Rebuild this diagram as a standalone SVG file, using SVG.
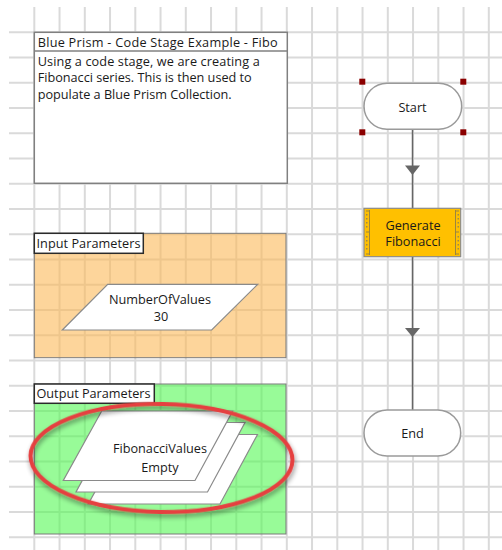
<svg xmlns="http://www.w3.org/2000/svg" width="502" height="550" viewBox="0 0 502 550">
<style>
.grid line{stroke:#dadada;stroke-width:2}
.t{font-family:"Open Sans","Noto Sans","DejaVu Sans",sans-serif;font-size:12.7px;fill:#1a1a1a}
.c{text-anchor:middle}
.term{fill:#fff;stroke:#9a9a9a;stroke-width:1.5}
.sheet{fill:#fff;stroke:#8a8a8a;stroke-width:1.2}
.handle{fill:#8b0000}
.lbl{fill:#fff;stroke:#2a2a2a;stroke-width:1.5}
.conn line{stroke:#666;stroke-width:1.5}
.conn polygon{fill:#666}
.deco{stroke:#9a8540;stroke-width:1;fill:none}
.dot{fill:#a08a48}
</style>
<defs>
<filter id="sh" x="-20%" y="-30%" width="140%" height="160%">
<feGaussianBlur in="SourceAlpha" stdDeviation="2.5"/>
<feOffset dx="1" dy="3" result="b"/>
<feComponentTransfer><feFuncA type="linear" slope="0.45"/></feComponentTransfer>
<feMerge><feMergeNode/><feMergeNode in="SourceGraphic"/></feMerge>
</filter>
</defs>
<rect width="502" height="550" fill="#fff"/>
<g class="grid">
<line x1="34.3" y1="7" x2="34.3" y2="550"/><line x1="59.55" y1="7" x2="59.55" y2="550"/><line x1="84.8" y1="7" x2="84.8" y2="550"/><line x1="110.05" y1="7" x2="110.05" y2="550"/><line x1="135.3" y1="7" x2="135.3" y2="550"/><line x1="160.55" y1="7" x2="160.55" y2="550"/><line x1="185.8" y1="7" x2="185.8" y2="550"/><line x1="211.05" y1="7" x2="211.05" y2="550"/><line x1="236.3" y1="7" x2="236.3" y2="550"/><line x1="261.55" y1="7" x2="261.55" y2="550"/><line x1="286.8" y1="7" x2="286.8" y2="550"/><line x1="312.05" y1="7" x2="312.05" y2="550"/><line x1="337.3" y1="7" x2="337.3" y2="550"/><line x1="362.55" y1="7" x2="362.55" y2="550"/><line x1="387.8" y1="7" x2="387.8" y2="550"/><line x1="413.05" y1="7" x2="413.05" y2="550"/><line x1="438.3" y1="7" x2="438.3" y2="550"/><line x1="463.55" y1="7" x2="463.55" y2="550"/><line x1="488.8" y1="7" x2="488.8" y2="550"/>
<line x1="9" y1="32.3" x2="502" y2="32.3"/><line x1="9" y1="57.55" x2="502" y2="57.55"/><line x1="9" y1="82.8" x2="502" y2="82.8"/><line x1="9" y1="108.05" x2="502" y2="108.05"/><line x1="9" y1="133.3" x2="502" y2="133.3"/><line x1="9" y1="158.55" x2="502" y2="158.55"/><line x1="9" y1="183.8" x2="502" y2="183.8"/><line x1="9" y1="209.05" x2="502" y2="209.05"/><line x1="9" y1="234.3" x2="502" y2="234.3"/><line x1="9" y1="259.55" x2="502" y2="259.55"/><line x1="9" y1="284.8" x2="502" y2="284.8"/><line x1="9" y1="310.05" x2="502" y2="310.05"/><line x1="9" y1="335.3" x2="502" y2="335.3"/><line x1="9" y1="360.55" x2="502" y2="360.55"/><line x1="9" y1="385.8" x2="502" y2="385.8"/><line x1="9" y1="411.05" x2="502" y2="411.05"/><line x1="9" y1="436.3" x2="502" y2="436.3"/><line x1="9" y1="461.55" x2="502" y2="461.55"/><line x1="9" y1="486.8" x2="502" y2="486.8"/><line x1="9" y1="512.05" x2="502" y2="512.05"/><line x1="9" y1="537.3" x2="502" y2="537.3"/>
</g>

<g id="note">
<rect x="34.3" y="32.3" width="253" height="151" fill="#fff" stroke="#808080" stroke-width="1.5"/>
<line x1="34.3" y1="51" x2="287.3" y2="51" stroke="#808080" stroke-width="1.5"/>
<text class="t" x="37.7" y="47" textLength="240">Blue Prism - Code Stage Example - Fibo</text>
<text class="t" x="37.7" y="65.5" textLength="222">Using a code stage, we are creating a</text>
<text class="t" x="37.7" y="82.3" textLength="214">Fibonacci series. This is then used to</text>
<text class="t" x="37.7" y="99" textLength="194">populate a Blue Prism Collection.</text>
</g>

<g id="input-block">
<rect x="34.3" y="233.3" width="251.7" height="124.4" fill="#fcb958" fill-opacity="0.6" stroke="#7a7a7a" stroke-width="1"/>
<rect class="lbl" x="34.3" y="233.3" width="109" height="20"/>
<text class="t" x="36.5" y="247.5" textLength="104">Input Parameters</text>
</g>

<g id="number-of-values">
<polygon points="107.7,284.3 257.7,284.3 211.7,330 62.3,330" fill="#fff" stroke="#8a8a8a" stroke-width="1.2"/>
<text class="t c" x="160" y="303.5">NumberOfValues</text>
<text class="t c" x="161" y="321">30</text>
</g>

<g id="output-block">
<rect x="34.3" y="384" width="251.7" height="150" fill="#53f853" fill-opacity="0.6" stroke="#7a7a7a" stroke-width="1"/>
<rect class="lbl" x="34.3" y="384" width="120" height="19.3"/>
<text class="t" x="36.5" y="398" textLength="114">Output Parameters</text>
</g>

<g id="fibonacci-values">
<polygon class="sheet" points="126.5,434.5 257.5,434.5 220,504 88.3,504"/>
<polygon class="sheet" points="114,422.5 245,422.5 207.5,492 76,492"/>
<polygon class="sheet" points="101.7,411 232.7,411 195,480.5 63.3,480.5"/>
<text class="t c" x="160" y="453">FibonacciValues</text>
<text class="t c" x="160" y="472">Empty</text>
</g>

<g id="highlight">
<ellipse cx="161.5" cy="458" rx="131" ry="54" transform="rotate(1 161.5 458)" fill="none" stroke="#e53f3f" stroke-width="4" filter="url(#sh)"/>
</g>

<g class="conn" id="connectors">
<line x1="412.5" y1="129.3" x2="412.5" y2="208.3"/>
<polygon points="405,165.5 420,165.5 412.5,175"/>
<line x1="412.5" y1="256.7" x2="412.5" y2="410"/>
<polygon points="405,328 420,328 412.5,337"/>
</g>

<g id="start">
<rect class="term" x="364" y="83.3" width="97.7" height="46" rx="23"/>
<text class="t c" x="412.5" y="111.5">Start</text>
<rect class="handle" x="359.3" y="78.7" width="6" height="6"/>
<rect class="handle" x="460.3" y="78.7" width="6" height="6"/>
<rect class="handle" x="359.3" y="129.3" width="6" height="6"/>
<rect class="handle" x="460.3" y="129.3" width="6" height="6"/>
</g>

<g id="generate-fibonacci">
<rect x="364" y="208.3" width="96.7" height="48.4" fill="#ffc000" stroke="#8a8a8a" stroke-width="1.2"/>
<line class="deco" x1="369.5" y1="210" x2="369.5" y2="255"/>
<line class="deco" x1="455.5" y1="210" x2="455.5" y2="255"/>
<path class="deco" d="M366 211h3.5M366 232h3.5M366 254h3.5M455.5 211h3.5M455.5 232h3.5M455.5 254h3.5"/>
<g class="dot">
<rect x="366" y="214" width="1.5" height="1.5"/><rect x="366" y="218" width="1.5" height="1.5"/><rect x="366" y="222" width="1.5" height="1.5"/><rect x="366" y="226" width="1.5" height="1.5"/><rect x="366" y="236" width="1.5" height="1.5"/><rect x="366" y="240" width="1.5" height="1.5"/><rect x="366" y="244" width="1.5" height="1.5"/><rect x="366" y="248" width="1.5" height="1.5"/>
<rect x="457.5" y="214" width="1.5" height="1.5"/><rect x="457.5" y="218" width="1.5" height="1.5"/><rect x="457.5" y="222" width="1.5" height="1.5"/><rect x="457.5" y="226" width="1.5" height="1.5"/><rect x="457.5" y="236" width="1.5" height="1.5"/><rect x="457.5" y="240" width="1.5" height="1.5"/><rect x="457.5" y="244" width="1.5" height="1.5"/><rect x="457.5" y="248" width="1.5" height="1.5"/>
</g>
<text class="t c" x="413" y="229.5">Generate</text>
<text class="t c" x="413" y="246">Fibonacci</text>
</g>

<g id="end">
<rect class="term" x="364" y="410" width="96.7" height="46" rx="23"/>
<text class="t c" x="412.5" y="437.5">End</text>
</g>
</svg>
